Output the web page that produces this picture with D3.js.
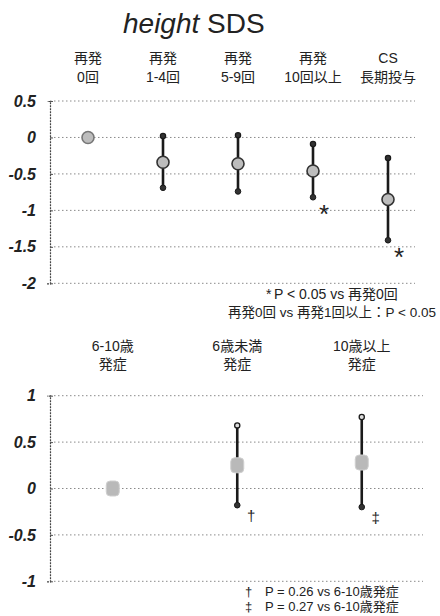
<!DOCTYPE html>
<html><head><meta charset="utf-8">
<script src="https://cdn.jsdelivr.net/npm/d3@7"></script>
<style>
body{margin:0;background:#fff;}
svg{display:block;}
text{font-family:"Liberation Sans","Noto Sans CJK JP",sans-serif;fill:#222;}
</style></head>
<body>
<script>
// ---- Top panel data ----
const topCatLine1 = ["再発", "再発", "再発", "再発", "CS"];
const topCatLine2 = ["0回", "1-4回", "5-9回", "10回以上", "長期投与"];
const topMeans = [0, -0.34, -0.36, -0.46, -0.85];
const topUpper = [null, 0.02, 0.03, -0.09, -0.28];
const topLower = [null, -0.69, -0.74, -0.82, -1.41];
const topMarks = ["", "", "", "*", "*"];
const topTicks = [0.5, 0, -0.5, -1, -1.5, -2];
const topTickLabels = ["0.5", "0", "-0.5", "-1", "-1.5", "-2"];
const topNoteSym = ["*", ""];
const topNotes = ["P < 0.05 vs 再発0回", "再発0回 vs 再発1回以上：P < 0.05"];

// ---- Bottom panel data ----
const botCatLine1 = ["6-10歳", "6歳未満", "10歳以上"];
const botCatLine2 = ["発症", "発症", "発症"];
const botMeans = [0, 0.25, 0.28];
const botUpper = [null, 0.68, 0.77];
const botLower = [null, -0.18, -0.2];
const botMarks = ["", "†", "‡"];
const botTicks = [1, 0.5, 0, -0.5, -1];
const botTickLabels = ["1", "0.5", "0", "-0.5", "-1"];
const botNoteSym = ["†", "‡"];
const botNotes = ["P = 0.26 vs 6-10歳発症", "P = 0.27 vs 6-10歳発症"];

const W = 440, H = 616;
const svg = d3.select("body").append("svg").attr("width", W).attr("height", H);

// Title
const title = svg.append("text").attr("x", 123).attr("y", 33)
  .attr("font-size", 28).attr("fill", "#111");
title.append("tspan").attr("font-style", "italic").text("height");
title.append("tspan").text(" SDS");

function panel(cfg) {
  const n = cfg.line1.length;
  const idx = d3.range(n);
  const x = d3.scaleBand().domain(idx).range([50.5, cfg.xEnd]).paddingInner(0).paddingOuter(0);
  const cx = i => x(i) + x.bandwidth() / 2;
  const y = d3.scaleLinear().domain(cfg.domain).range(cfg.yRange);
  const g = svg.append("g");

  // gridlines
  g.selectAll("line.grid").data(cfg.ticks).join("line")
    .attr("x1", 50).attr("x2", cfg.gridEnd)
    .attr("y1", d => y(d)).attr("y2", d => y(d))
    .attr("stroke", "#8a8a8a").attr("stroke-width", 1)
    .attr("stroke-dasharray", "1.5,2.5");

  // y axis
  const ax = d3.axisLeft(y).tickValues(cfg.ticks).tickSize(3).tickPadding(11)
    .tickFormat((d, i) => cfg.tickLabels[i]);
  const axg = g.append("g").attr("transform", "translate(50,0)").call(ax);
  axg.select(".domain").attr("stroke", "#444").attr("stroke-width", 1.2).attr("stroke-dasharray", "2,1");
  axg.selectAll(".tick line").attr("stroke", "#555").attr("transform", "translate(3,0)");
  axg.selectAll(".tick text").attr("font-size", 16).attr("font-weight", "bold")
    .attr("font-style", "italic").attr("fill", "#111")
    .attr("font-family", "'Liberation Sans',sans-serif");

  // category labels
  g.selectAll("text.c1").data(idx).join("text")
    .attr("x", cx).attr("y", cfg.labY1).attr("text-anchor", "middle")
    .attr("font-size", cfg.labSize).text(i => cfg.line1[i]);
  g.selectAll("text.c2").data(idx).join("text")
    .attr("x", cx).attr("y", cfg.labY2).attr("text-anchor", "middle")
    .attr("font-size", cfg.labSize).text(i => cfg.line2[i]);

  const withBars = idx.filter(i => cfg.upper[i] !== null);
  // error bars
  g.selectAll("line.err").data(withBars).join("line")
    .attr("x1", cx).attr("x2", cx)
    .attr("y1", i => y(cfg.upper[i])).attr("y2", i => y(cfg.lower[i]))
    .attr("stroke", "#1a1a1a").attr("stroke-width", 2.6);
  // end caps
  g.selectAll("circle.up").data(withBars).join("circle")
    .attr("cx", cx).attr("cy", i => y(cfg.upper[i])).attr("r", 2.6)
    .attr("fill", cfg.openTop ? "#ddd" : "#333").attr("stroke", "#1a1a1a").attr("stroke-width", 1.3);
  g.selectAll("circle.lo").data(withBars).join("circle")
    .attr("cx", cx).attr("cy", i => y(cfg.lower[i])).attr("r", 2.8)
    .attr("fill", "#333").attr("stroke", "#1a1a1a").attr("stroke-width", 1);

  // mean markers
  if (cfg.square) {
    g.selectAll("rect.m").data(idx).join("rect")
      .attr("x", i => cx(i) - 6.5).attr("y", i => y(cfg.means[i]) - 7.5)
      .attr("width", 13).attr("height", 15).attr("rx", 4)
      .attr("fill", "#b9b9b9").attr("stroke", "#cfcfcf").attr("stroke-width", 1);
  } else {
    g.selectAll("circle.m").data(idx).join("circle")
      .attr("cx", cx).attr("cy", i => y(cfg.means[i])).attr("r", 6)
      .attr("fill", "#bdbdbd")
      .attr("stroke", i => i === 0 ? "#777" : "#333").attr("stroke-width", 1.6);
  }

  // significance marks
  g.selectAll("text.mk").data(idx.filter(i => cfg.marks[i])).join("text")
    .attr("x", i => cx(i) + cfg.markDx).attr("y", i => y(cfg.lower[i]) + cfg.markDy)
    .attr("text-anchor", "middle").attr("font-size", cfg.markSize)
    .attr("font-family", "'DejaVu Sans',sans-serif").attr("fill", "#222")
    .text(i => cfg.marks[i]);

  // notes
  cfg.notes.forEach((t, k) => {
    if (cfg.noteSym[k]) {
      g.append("text").attr("x", cfg.symX[k]).attr("y", cfg.noteY[k])
        .attr("font-size", cfg.noteSize[k]).attr("font-family", "'DejaVu Sans',sans-serif")
        .attr("fill", "#222").text(cfg.noteSym[k]);
    }
    g.append("text").attr("x", cfg.noteX[k]).attr("y", cfg.noteY[k])
      .attr("font-size", cfg.noteSize[k]).attr("fill", "#222").text(t);
  });
}

panel({
  line1: topCatLine1, line2: topCatLine2, means: topMeans, upper: topUpper, lower: topLower,
  marks: topMarks, ticks: topTicks, tickLabels: topTickLabels,
  notes: topNotes, noteSym: topNoteSym,
  domain: [-2, 0.5], yRange: [283.3, 101], xEnd: 425.5, gridEnd: 415,
  labY1: 63, labY2: 82, labSize: 14, openTop: false, square: false,
  markDx: 11, markDy: 26, markSize: 26,
  symX: [266, 0], noteX: [274, 228], noteY: [299, 317], noteSize: [14, 13.5]
});

panel({
  line1: botCatLine1, line2: botCatLine2, means: botMeans, upper: botUpper, lower: botLower,
  marks: botMarks, ticks: botTicks, tickLabels: botTickLabels,
  notes: botNotes, noteSym: botNoteSym,
  domain: [-1, 1], yRange: [581.3, 395.7], xEnd: 424, gridEnd: 423,
  labY1: 351, labY2: 369, labSize: 14, openTop: true, square: true,
  markDx: 14, markDy: 16, markSize: 15,
  symX: [245, 245], noteX: [265, 265], noteY: [596, 611], noteSize: [13, 13]
});
</script>
</body></html>
